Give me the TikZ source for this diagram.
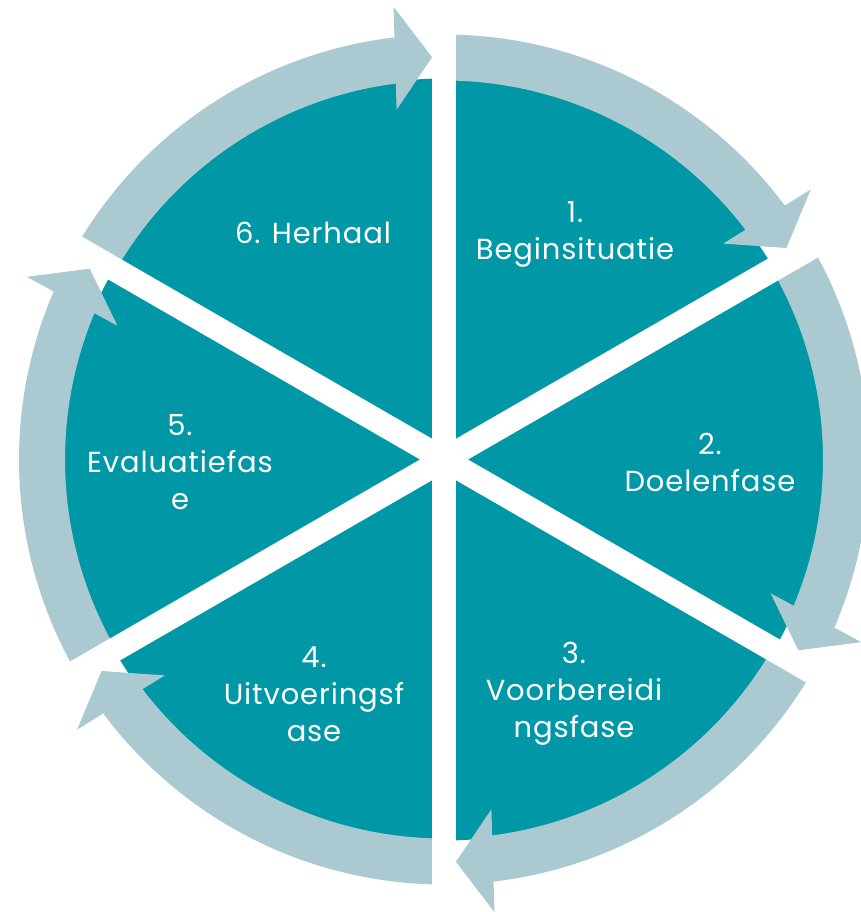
\documentclass[tikz,border=0pt]{standalone}
\usepackage{fontspec}
\setmainfont{Poppins}
\newfontfamily\lblfont[LetterSpace=3]{Poppins}
\definecolor{segteal}{HTML}{0097A7}
\definecolor{bandblue}{HTML}{ABC9D1}
\begin{document}
\begin{tikzpicture}[x=1pt,y=1pt,
  lbl/.style={text=white, font=\lblfont\fontsize{29}{37}\selectfont, align=center},
  gapline/.style={white, line width=24pt},
  bandfill/.style={fill=bandblue}]
\useasboundingbox (0,0) rectangle (861,912);
\clip (0,0) rectangle (861,912);
\coordinate (c) at (444,452.5);
\fill[segteal] (c) circle[radius=381];
\foreach \a in {90,30,-30,-90,-150,-210} {
  \fill[bandfill] ([shift={(\a:379)}]c) arc[start angle=\a, end angle=\a-53.3, radius=379]
    -- ([shift={(\a-53.3:425)}]c) arc[start angle=\a-53.3, end angle=\a, radius=425] -- cycle;
  \begin{scope}[shift={(c)}, rotate=\a-58.3]
    \fill[bandfill] (402.5,0) -- (454,37) -- (351,37) -- cycle;
  \end{scope}
}
\foreach \a in {90,30,-30} {
  \draw[gapline] ([shift={(\a:470)}]c) -- ([shift={(\a+180:470)}]c);
}
\node[lbl] (s1) at (575,678) {1.\\Beginsituatie};
\node[lbl] (s2) at (710,450) {2.\\Doelenfase};
\node[lbl] (s3) at (574,218) {3.\\Voorbereidi\\ngsfase};
\node[lbl] (s4) at (314,218) {4.\\Uitvoeringsf\\ase};
\node[lbl] (s5) at (180,450) {5.\\Evaluatiefas\\e};
\node[lbl] (s6) at (313,679) {6. Herhaal};
\end{tikzpicture}
\end{document}
